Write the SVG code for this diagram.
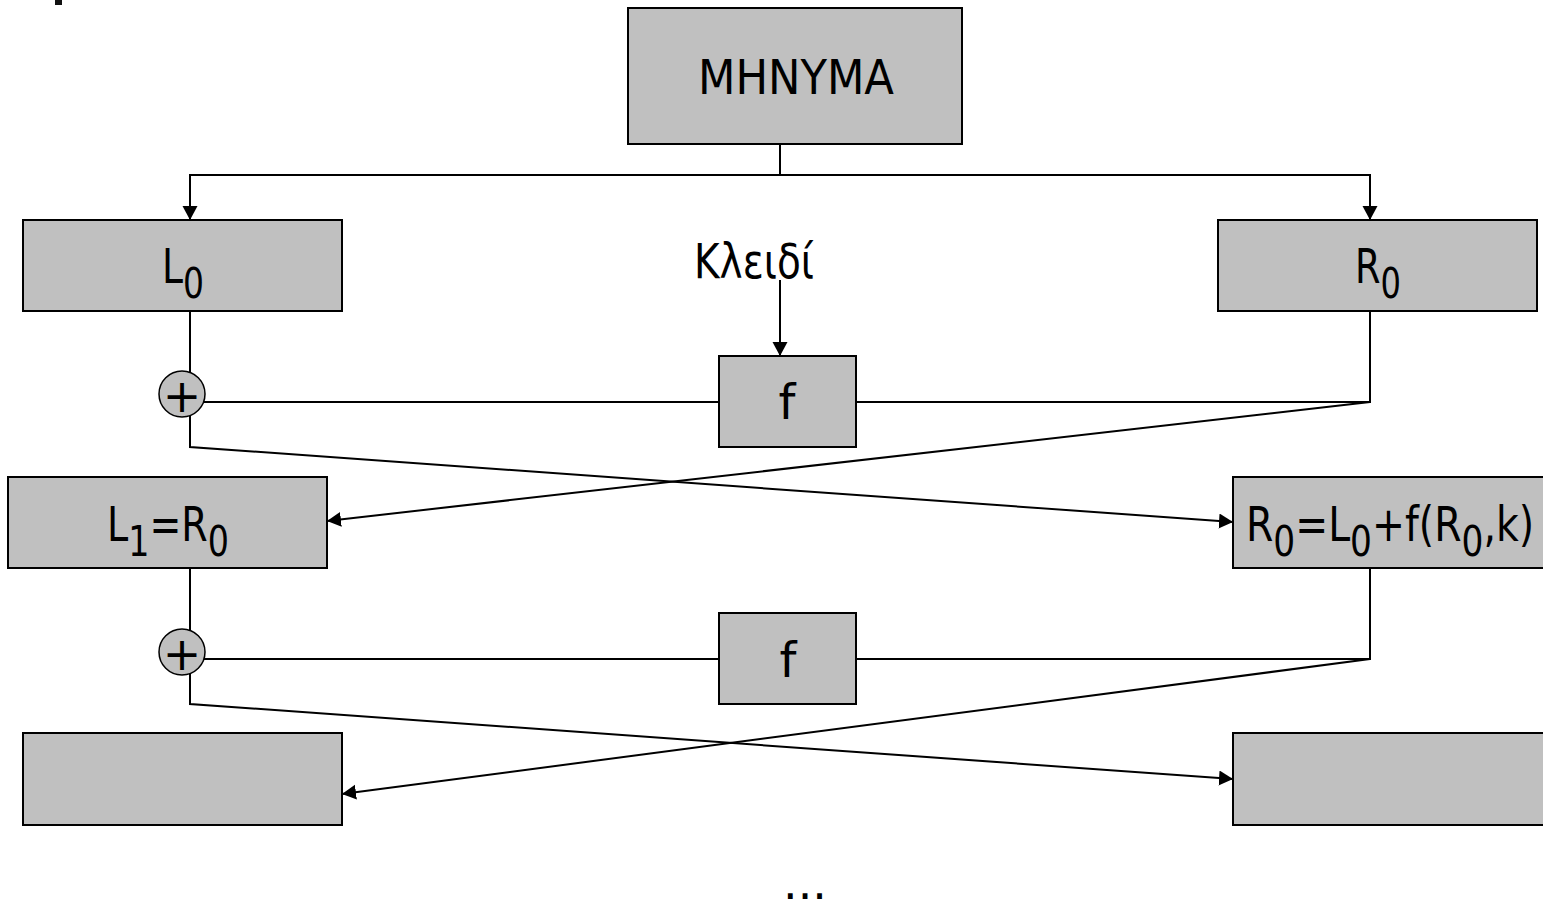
<svg xmlns="http://www.w3.org/2000/svg" width="1543" height="900" viewBox="0 0 1543 900">
  <style>
    .box { fill: #c0c0c0; stroke: #000; stroke-width: 2; }
    .xor { fill: #c0c0c0; stroke: #000; stroke-width: 1.5; }
    .lbl { font-family: "DejaVu Sans", "Noto Sans", sans-serif; font-size: 48px; fill: #000; }
    .sub { font-size: 42px; }
    .op { font-size: 46px; }
    .wire { fill: none; stroke: #000; stroke-width: 2; }
    .arr { marker-end: url(#head); }
  </style>
  <defs>
    <marker id="head" markerUnits="userSpaceOnUse" markerWidth="16" markerHeight="16" refX="14" refY="7.5" orient="auto">
      <path d="M0,0 L14,7.5 L0,15 z" fill="#000"/>
    </marker>
  </defs>

  <rect width="1543" height="900" fill="#fff"/>
  <rect x="55" y="0" width="7" height="5" fill="#111"/>

  <!-- connectors -->
  <g id="connectors">
    <path class="wire arr" d="M780,144 V175 H190 V220"/>
    <path class="wire arr" d="M780,175 H1370 V220"/>
    <path class="wire arr" d="M780,280 V356"/>

    <!-- round 1 -->
    <path class="wire" d="M190,311 V372"/>
    <path class="wire" d="M204,402 H719"/>
    <path class="wire" d="M1370,311 V402 H856"/>
    <path class="wire arr" d="M1370,402 L327,521"/>
    <path class="wire arr" d="M190,416 V447 L1233,522"/>

    <!-- round 2 -->
    <path class="wire" d="M190,568 V630"/>
    <path class="wire" d="M204,659 H719"/>
    <path class="wire" d="M1370,568 V659 H856"/>
    <path class="wire arr" d="M1370,659 L342,794"/>
    <path class="wire arr" d="M190,673 V704 L1233,779"/>
  </g>

  <g id="message">
    <rect class="box" x="628" y="8" width="334" height="136"/>
    <text class="lbl" x="796" y="94" text-anchor="middle" textLength="196" lengthAdjust="spacingAndGlyphs">MHNYMA</text>
  </g>

  <g id="key">
    <text class="lbl" x="754" y="278" text-anchor="middle" textLength="120" lengthAdjust="spacingAndGlyphs">Κλειδί</text>
  </g>

  <g id="L0">
    <rect class="box" x="23" y="220" width="319" height="91"/>
    <text class="lbl" x="162" y="283" textLength="42" lengthAdjust="spacingAndGlyphs">L<tspan class="sub" dy="15">0</tspan></text>
  </g>

  <g id="R0">
    <rect class="box" x="1218" y="220" width="319" height="91"/>
    <text class="lbl" x="1355" y="283" textLength="46" lengthAdjust="spacingAndGlyphs">R<tspan class="sub" dy="15">0</tspan></text>
  </g>

  <g id="xor1">
    <circle class="xor" cx="182" cy="394" r="23"/>
    <text class="lbl op" x="182" y="412" text-anchor="middle">+</text>
  </g>

  <g id="f1">
    <rect class="box" x="719" y="356" width="137" height="91"/>
    <text class="lbl" x="787" y="419" text-anchor="middle">f</text>
  </g>

  <g id="L1">
    <rect class="box" x="8" y="477" width="319" height="91"/>
    <text class="lbl" x="107" y="541" textLength="122" lengthAdjust="spacingAndGlyphs">L<tspan class="sub" dy="15">1</tspan><tspan dy="-15">=R</tspan><tspan class="sub" dy="15">0</tspan></text>
  </g>

  <g id="R1">
    <rect class="box" x="1233" y="477" width="320" height="91"/>
    <text class="lbl" x="1246" y="541" textLength="288" lengthAdjust="spacingAndGlyphs">R<tspan class="sub" dy="15">0</tspan><tspan dy="-15">=L</tspan><tspan class="sub" dy="15">0</tspan><tspan dy="-15">+f(R</tspan><tspan class="sub" dy="15">0</tspan><tspan dy="-15">,k)</tspan></text>
  </g>

  <g id="xor2">
    <circle class="xor" cx="182" cy="652" r="23"/>
    <text class="lbl op" x="182" y="670" text-anchor="middle">+</text>
  </g>

  <g id="f2">
    <rect class="box" x="719" y="613" width="137" height="91"/>
    <text class="lbl" x="788" y="677" text-anchor="middle">f</text>
  </g>

  <g id="L2">
    <rect class="box" x="23" y="733" width="319" height="92"/>
  </g>

  <g id="R2">
    <rect class="box" x="1233" y="733" width="320" height="92"/>
  </g>

  <g id="more">
    <text class="lbl op" x="805" y="899" text-anchor="middle">...</text>
  </g>
</svg>
